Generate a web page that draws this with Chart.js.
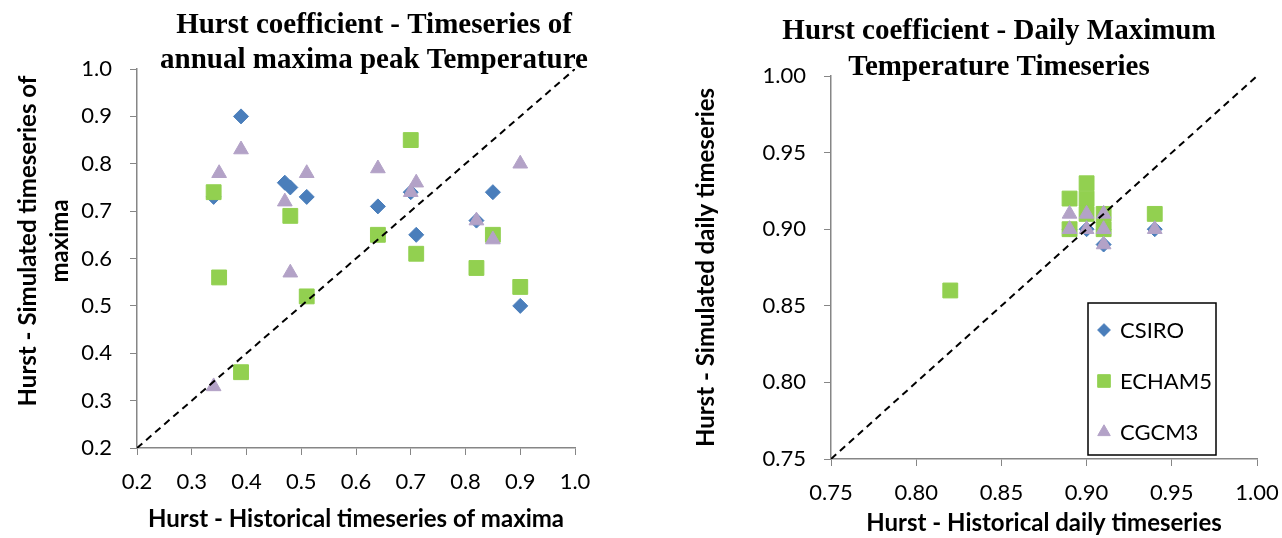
<!DOCTYPE html>
<html>
<head>
<meta charset="utf-8">
<script src="https://cdn.jsdelivr.net/npm/chart.js@4.4.0/dist/chart.umd.min.js"></script>
<style>
  body { margin: 0; background: #fff; }
  #wrap { position: relative; width: 1282px; height: 538px; }
  canvas { position: absolute; top: 0; }
</style>
</head>
<body>
<div id="wrap">
  <canvas id="annual" width="640" height="538" style="left:0"></canvas>
  <canvas id="daily" width="642" height="538" style="left:640px"></canvas>
</div>
<script>
const seriesNames = ["CSIRO", "ECHAM5", "CGCM3"];

// annual maxima: historical hurst (x) vs simulated hurst (y)
const annualCsiroX = [0.34, 0.39, 0.47, 0.48, 0.51, 0.64, 0.70, 0.71, 0.82, 0.85, 0.90];
const annualCsiroY = [0.73, 0.90, 0.76, 0.75, 0.73, 0.71, 0.74, 0.65, 0.68, 0.74, 0.50];
const annualEchamX = [0.34, 0.35, 0.39, 0.48, 0.51, 0.64, 0.70, 0.71, 0.82, 0.85, 0.90];
const annualEchamY = [0.74, 0.56, 0.36, 0.69, 0.52, 0.65, 0.85, 0.61, 0.58, 0.65, 0.54];
const annualCgcmX = [0.34, 0.35, 0.39, 0.47, 0.48, 0.51, 0.64, 0.70, 0.71, 0.82, 0.85, 0.90];
const annualCgcmY = [0.33, 0.78, 0.83, 0.72, 0.57, 0.78, 0.79, 0.74, 0.76, 0.68, 0.64, 0.80];
const annualTicks = [0.2, 0.3, 0.4, 0.5, 0.6, 0.7, 0.8, 0.9, 1.0];

// daily maximum timeseries
const dailyCsiroX = [0.89, 0.90, 0.91, 0.91, 0.94];
const dailyCsiroY = [0.90, 0.90, 0.90, 0.89, 0.90];
const dailyEchamX = [0.82, 0.89, 0.89, 0.90, 0.90, 0.90, 0.91, 0.91, 0.94];
const dailyEchamY = [0.86, 0.92, 0.90, 0.93, 0.92, 0.91, 0.91, 0.90, 0.91];
const dailyCgcmX = [0.89, 0.89, 0.90, 0.90, 0.91, 0.91, 0.91, 0.94];
const dailyCgcmY = [0.91, 0.90, 0.91, 0.90, 0.91, 0.90, 0.89, 0.90];
const dailyTicks = [0.75, 0.80, 0.85, 0.90, 0.95, 1.00];

const blue = "#4A7EBB", green = "#92D050", purple = "#B3A2C7", axisGrey = "#868686";

const pts = (xs, ys) => xs.map((x, i) => ({ x: x, y: ys[i] }));

function markerSets(csX, csY, ecX, ecY, cgX, cgY) {
    return [
        { label: seriesNames[0], data: pts(csX, csY), pointStyle: "rectRot", pointRadius: 7.5,
          backgroundColor: blue, borderColor: blue, borderWidth: 1, order: 3 },
        { label: seriesNames[1], data: pts(ecX, ecY), pointStyle: "rect", pointRadius: 10.5,
          backgroundColor: green, borderColor: green, borderWidth: 1, order: 2 },
        { label: seriesNames[2], data: pts(cgX, cgY), pointStyle: "triangle", pointRadius: 8.5,
          backgroundColor: purple, borderColor: purple, borderWidth: 1, order: 1 }
    ];
}

function diagonal(ticks) {
    const ends = [ticks[0], ticks[ticks.length - 1]];
    return { label: "", data: pts(ends, ends), showLine: true, borderColor: "#000", borderWidth: 2,
             borderDash: [7, 5], pointRadius: 0, order: 0 };
}

// titles and the boxed legend are drawn on top of the plot
const overlay = {
    id: "overlay",
    afterDraw(chart, args, o) {
        const ctx = chart.ctx;
        ctx.save();
        ctx.fillStyle = "#000";
        ctx.textAlign = "center";
        ctx.textBaseline = "middle";
        ctx.font = "bold 29px 'Liberation Serif'";
        o.title.forEach((t, i) => ctx.fillText(t, o.titleX, o.titleY + i * o.titleGap));

        if (o.legend) {
            const b = o.legend;
            ctx.strokeStyle = "#000";
            ctx.lineWidth = 1.5;
            ctx.strokeRect(b.left, b.top, b.width, b.height);
            ctx.textAlign = "left";
            ctx.font = "22px Lato";
            chart.data.datasets.filter(d => d.label).forEach((d, i) => {
                const y = b.firstY + i * b.gap;
                ctx.fillStyle = d.backgroundColor;
                ctx.strokeStyle = d.borderColor;
                ctx.lineWidth = 1;
                Chart.helpers.drawPoint(ctx, { pointStyle: d.pointStyle, radius: d.pointRadius * 0.85,
                    rotation: 0, borderWidth: 1 }, b.left + 16, y);
                ctx.fillStyle = "#000";
                ctx.fillText(d.label, b.left + 32, y + 1);
            });
        }
        ctx.restore();
    }
};

function makeChart(id, datasets, ticks, dec, area, xTitle, yTitle, yTitlePad, xTitlePad, tickPad, over) {
    const canvas = document.getElementById(id);
    const tickFont = { family: "Lato", size: 22 };
    const titleFont = { family: "Lato", size: 24, weight: "bold" };
    return new Chart(canvas.getContext("2d"), {
        type: "scatter",
        data: { datasets: datasets },
        plugins: [overlay],
        options: {
            responsive: false,
            animation: false,
            layout: { padding: { top: area.top, right: canvas.width - area.right, left: 0, bottom: 0 } },
            plugins: { legend: { display: false }, tooltip: { enabled: false }, overlay: over },
            scales: {
                x: {
                    type: "linear", min: ticks[0], max: ticks[ticks.length - 1],
                    afterBuildTicks: s => { s.ticks = ticks.map(v => ({ value: v })); },
                    afterFit: s => {
                        s.height = canvas.height - area.bottom;
                        s.paddingLeft = 0;
                        s.paddingRight = 0;
                    },
                    ticks: { callback: v => v.toFixed(dec), font: tickFont, color: "#000", padding: tickPad, maxRotation: 0 },
                    grid: { drawOnChartArea: false, tickLength: 7, color: axisGrey },
                    border: { color: axisGrey, width: 1.5 },
                    title: { display: true, text: xTitle, font: { ...titleFont, lineHeight: 1.2 }, color: "#000",
                             padding: { top: 0, bottom: xTitlePad } }
                },
                y: {
                    type: "linear", min: ticks[0], max: ticks[ticks.length - 1],
                    afterBuildTicks: s => { s.ticks = ticks.map(v => ({ value: v })); },
                    afterFit: s => { s.width = area.left; },
                    ticks: { callback: v => v.toFixed(dec), font: tickFont, color: "#000", padding: 18 },
                    grid: { drawOnChartArea: false, tickLength: 7, color: axisGrey },
                    border: { color: axisGrey, width: 1.5 },
                    title: { display: true, text: yTitle, font: { ...titleFont, lineHeight: 1.33 }, color: "#000",
                             padding: { top: yTitlePad, bottom: 0 } }
                }
            }
        }
    });
}

makeChart("annual",
    markerSets(annualCsiroX, annualCsiroY, annualEchamX, annualEchamY, annualCgcmX, annualCgcmY).concat([diagonal(annualTicks)]),
    annualTicks, 1, { left: 137, right: 575, top: 69, bottom: 448 },
    "Hurst - Historical timeseries of maxima",
    ["      Hurst - Simulated timeseries of", "      maxima"], 12, 4, 14,
    { title: ["Hurst coefficient - Timeseries of", "annual maxima peak Temperature"], titleX: 374, titleY: 26, titleGap: 35 });

makeChart("daily",
    markerSets(dailyCsiroX, dailyCsiroY, dailyEchamX, dailyEchamY, dailyCgcmX, dailyCgcmY).concat([diagonal(dailyTicks)]),
    dailyTicks, 2, { left: 191, right: 617, top: 76, bottom: 459 },
    "Hurst - Historical daily timeseries",
    "Hurst - Simulated daily timeseries", 50, 0, 14,
    { title: ["Hurst coefficient - Daily Maximum", "Temperature Timeseries"], titleX: 359, titleY: 32, titleGap: 36,
      legend: { left: 448, top: 303, width: 128, height: 152, firstY: 330, gap: 51 } });
</script>
</body>
</html>
